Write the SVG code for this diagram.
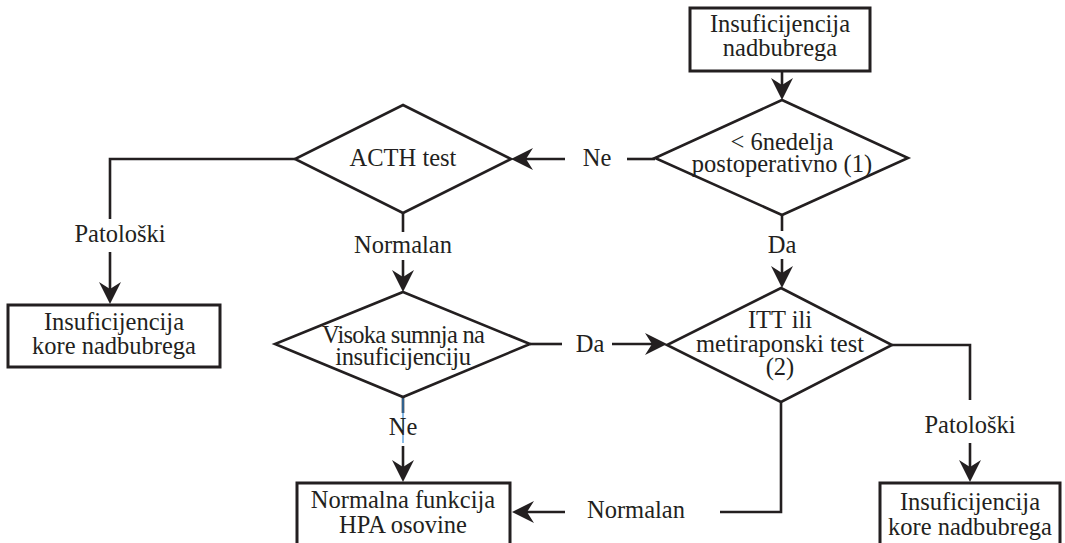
<svg xmlns="http://www.w3.org/2000/svg" width="1065" height="543" viewBox="0 0 1065 543">
  <style>
    .box { fill: #ffffff; stroke: #231f20; stroke-width: 3; }
    .dia { fill: #ffffff; stroke: #231f20; stroke-width: 2.6; stroke-linejoin: miter; }
    .t { font-family: "Liberation Serif", "Times New Roman", serif; font-size: 24.5px; fill: #231f20; text-anchor: middle; }
    .c { fill: none; stroke: #231f20; stroke-width: 2.6; }
    .arr { fill: none; stroke: #231f20; stroke-width: 2.6; marker-end: url(#head); }
  </style>
  <defs>
    <marker id="head" markerUnits="userSpaceOnUse" viewBox="-24 -12 26 24" refX="-8" refY="0" markerWidth="26" markerHeight="24" orient="auto">
      <path d="M0,0 L-22,-11 L-15,0 L-22,11 Z" fill="#231f20"/>
    </marker>
  </defs>

  <rect width="1065" height="543" fill="#ffffff"/>

  <!-- connectors -->
  <g id="connectors">
    <!-- start to first decision -->
    <line class="arr" x1="782" y1="71" x2="782" y2="92"/>
    <!-- first decision: Ne -> ACTH test -->
    <line class="c" x1="655" y1="159" x2="627" y2="159"/>
    <line class="arr" x1="565" y1="159" x2="519" y2="159"/>
    <text class="t" x="597" y="166">Ne</text>
    <!-- first decision: Da -> ITT -->
    <line class="c" x1="782" y1="214" x2="782" y2="231"/>
    <text class="t" x="782" y="253">Da</text>
    <line class="arr" x1="782" y1="259" x2="782" y2="280"/>
    <!-- ACTH: Patološki -->
    <polyline class="c" points="295,159 110,159 110,219"/>
    <text class="t" x="120" y="242">Patološki</text>
    <line class="arr" x1="110" y1="252" x2="110" y2="296"/>
    <!-- ACTH: Normalan -->
    <line class="c" x1="403" y1="213" x2="403" y2="232"/>
    <text class="t" x="403" y="253">Normalan</text>
    <line class="arr" x1="403" y1="260" x2="403" y2="284"/>
    <!-- Visoka sumnja: Da -->
    <line class="c" x1="530" y1="344" x2="562" y2="344"/>
    <text class="t" x="590" y="352">Da</text>
    <line class="arr" x1="612" y1="344" x2="659" y2="344"/>
    <!-- Visoka sumnja: Ne -->
    <line class="c" x1="403" y1="397" x2="403" y2="413"/>
    <line x1="403" y1="398" x2="403" y2="443" stroke="#3d8fd8" stroke-width="1.2"/>
    <text class="t" x="403" y="435">Ne</text>
    <line class="arr" x1="403" y1="446" x2="403" y2="474"/>
    <!-- ITT: Patološki -->
    <polyline class="c" points="892,345 970,345 970,400"/>
    <text class="t" x="970" y="433">Patološki</text>
    <line class="arr" x1="970" y1="443" x2="970" y2="474"/>
    <!-- ITT: Normalan -->
    <polyline class="c" points="781,402 781,512 720,512"/>
    <text class="t" x="636" y="518">Normalan</text>
    <line class="arr" x1="565" y1="512" x2="520" y2="512"/>
  </g>

  <!-- nodes -->
  <g id="n-start">
    <rect class="box" x="690" y="8" width="180" height="63"/>
    <text class="t" x="780" y="32">Insuficijencija</text>
    <text class="t" x="780" y="56">nadbubrega</text>
  </g>

  <g id="n-postop">
    <polygon class="dia" points="782,100 908,158 782,215 655,158"/>
    <text class="t" x="782" y="150">&lt; 6nedelja</text>
    <text class="t" x="782" y="172">postoperativno (1)</text>
  </g>

  <g id="n-acth">
    <polygon class="dia" points="403,105 511,159 403,213 295,159"/>
    <text class="t" x="403" y="166">ACTH test</text>
  </g>

  <g id="n-kora-left">
    <rect class="box" x="8" y="305" width="212" height="62"/>
    <text class="t" x="114" y="330">Insuficijencija</text>
    <text class="t" x="114" y="354">kore nadbubrega</text>
  </g>

  <g id="n-sumnja">
    <polygon class="dia" points="403,292 530,344 403,397 275,344"/>
    <text class="t" x="403" y="343" letter-spacing="-0.75">Visoka sumnja na</text>
    <text class="t" x="403" y="365" letter-spacing="-0.3">insuficijenciju</text>
  </g>

  <g id="n-itt">
    <polygon class="dia" points="781,288 892,345 781,402 667,345"/>
    <text class="t" x="780" y="328">ITT ili</text>
    <text class="t" x="780" y="352">metiraponski test</text>
    <text class="t" x="780" y="375">(2)</text>
  </g>

  <g id="n-normalna">
    <rect class="box" x="297" y="483" width="213" height="75"/>
    <text class="t" x="403" y="508">Normalna funkcija</text>
    <text class="t" x="403" y="533">HPA osovine</text>
  </g>

  <g id="n-kora-right">
    <rect class="box" x="880" y="483" width="180" height="75"/>
    <text class="t" x="970" y="510">Insuficijencija</text>
    <text class="t" x="970" y="535">kore nadbubrega</text>
  </g>
</svg>
